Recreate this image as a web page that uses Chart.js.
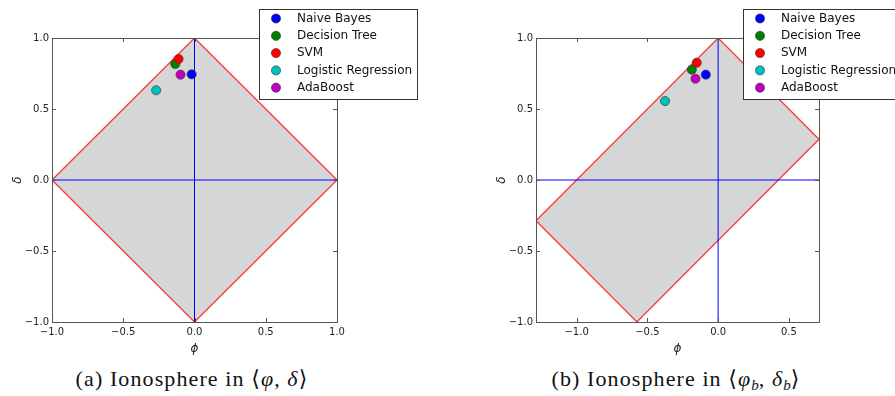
<!DOCTYPE html>
<html>
<head>
<meta charset="utf-8">
<script src="https://cdn.jsdelivr.net/npm/chart.js@4.4.0/dist/chart.umd.min.js"></script>
<style>
body { margin: 0; background: #fff; width: 895px; height: 396px; overflow: hidden; position: relative; }
canvas { position: absolute; top: 0; }
#chartA { left: 0; }
#chartB { left: 447px; }
.caption {
    position: absolute; top: 367px; line-height: 24px;
    font-family: "Liberation Serif", "DejaVu Serif", serif; font-size: 22px; color: #111;
    letter-spacing: 1.1px; white-space: nowrap; transform: translateX(-50%);
}
.caption sub { font-size: 15px; vertical-align: -4px; line-height: 0; letter-spacing: 0; }
</style>
</head>
<body>
<canvas id="chartA" width="447" height="360"></canvas>
<canvas id="chartB" width="448" height="360"></canvas>
<div class="caption" style="left:192px">(a) Ionosphere in ⟨<i>φ</i>, <i>δ</i>⟩</div>
<div class="caption" style="left:676px">(b) Ionosphere in ⟨<i>φ<sub>b</sub></i>, <i>δ<sub>b</sub></i>⟩</div>
<script>
// classifiers and their (phi, delta) positions
const CLASSIFIERS = ["Naive Bayes", "Decision Tree", "SVM", "Logistic Regression", "AdaBoost"];
const PHI_A = [-0.02, -0.135, -0.112, -0.269, -0.098];
const DELTA_A = [0.744, 0.817, 0.852, 0.632, 0.742];
const PHI_B = [-0.087, -0.186, -0.151, -0.375, -0.16];
const DELTA_B = [0.742, 0.777, 0.826, 0.556, 0.713];

// corners of the grey region
const REGION_A_PHI = [0, 1, 0, -1, 0];
const REGION_A_DELTA = [1, 0, -1, 0, 1];
const REGION_B_PHI = [0, 0.713, -0.574, -1.287, 0];
const REGION_B_DELTA = [1, 0.287, -1, -0.287, 1];

const PHI_RANGE_A = [-1, 1];
const PHI_RANGE_B = [-1.287, 0.713];
const DELTA_RANGE = [-1, 1];
const PHI_TICKS_A = [-1, -0.5, 0, 0.5, 1];
const PHI_TICKS_B = [-1, -0.5, 0, 0.5];
const DELTA_TICKS = [-1, -0.5, 0, 0.5, 1];

const MARKER_COLORS = ["#0000ff", "#008000", "#ff0000", "#00bfbf", "#bf00bf"];
const FRAME_COLOR = "#555555";
const TICK_FONT = { family: "DejaVu Sans", size: 10 };

function fmt(v) {
    const s = Math.abs(v).toFixed(1);
    return v < 0 ? "\u2212" + s : s;
}

const framePlugin = {
    id: "frame",
    afterDatasetsDraw(chart) {
        const { ctx, chartArea: a, scales } = chart;
        ctx.save();
        ctx.strokeStyle = FRAME_COLOR;
        ctx.lineWidth = 1;
        ctx.beginPath();
        scales.x.ticks.forEach((t) => {
            const px = Math.round(scales.x.getPixelForValue(t.value)) + 0.5;
            ctx.moveTo(px, a.bottom);
            ctx.lineTo(px, a.bottom - 4);
            ctx.moveTo(px, a.top);
            ctx.lineTo(px, a.top + 4);
        });
        scales.y.ticks.forEach((t) => {
            const py = Math.round(scales.y.getPixelForValue(t.value)) + 0.5;
            ctx.moveTo(a.left, py);
            ctx.lineTo(a.left + 4, py);
            ctx.moveTo(a.right, py);
            ctx.lineTo(a.right - 4, py);
        });
        ctx.stroke();
        ctx.strokeRect(Math.round(a.left) + 0.5, Math.round(a.top) + 0.5,
            Math.round(a.width), Math.round(a.height));
        ctx.restore();
    },
    afterDraw(chart, args, options) {
        const ctx = chart.ctx;
        const x0 = options.legendX;
        const y0 = 9;
        ctx.save();
        ctx.fillStyle = "#fff";
        ctx.fillRect(x0, y0, 158, 90);
        ctx.strokeStyle = "#333";
        ctx.lineWidth = 1;
        ctx.strokeRect(x0 + 0.5, y0 + 0.5, 158, 90);
        ctx.font = "12px 'DejaVu Sans'";
        ctx.textBaseline = "middle";
        chart.data.datasets.filter((d) => d.isClassifier).forEach((d, i) => {
            const cy = y0 + 9.5 + i * 17.3;
            ctx.beginPath();
            ctx.arc(x0 + 17, cy, 4.6, 0, Math.PI * 2);
            ctx.fillStyle = d.backgroundColor;
            ctx.fill();
            ctx.lineWidth = 0.6;
            ctx.strokeStyle = "#333";
            ctx.stroke();
            ctx.fillStyle = "#111";
            ctx.fillText(d.label, x0 + 38, cy);
        });
        ctx.restore();
    },
};

function makeChart(id, phi, delta, regionPhi, regionDelta, phiRange, phiTicks, padding, legendX) {
    const datasets = [];
    CLASSIFIERS.forEach((name, i) => {
        datasets.push({
            label: name,
            isClassifier: true,
            data: [{ x: phi[i], y: delta[i] }],
            backgroundColor: MARKER_COLORS[i],
            borderColor: "#333",
            borderWidth: 0.6,
            pointRadius: 4.6,
            order: CLASSIFIERS.length - i,
        });
    });
    datasets.push({
        type: "line",
        data: [{ x: 0, y: DELTA_RANGE[0] }, { x: 0, y: DELTA_RANGE[1] }],
        borderColor: "#0000ff",
        borderWidth: 1,
        pointRadius: 0,
        fill: false,
        order: 10,
    });
    datasets.push({
        type: "line",
        data: [{ x: phiRange[0], y: 0 }, { x: phiRange[1], y: 0 }],
        borderColor: "#0000ff",
        borderWidth: 1,
        pointRadius: 0,
        fill: false,
        order: 11,
    });
    datasets.push({
        type: "line",
        data: regionPhi.map((x, i) => ({ x: x, y: regionDelta[i] })),
        borderColor: "rgba(255, 0, 0, 0.75)",
        borderWidth: 1.3,
        backgroundColor: "#d6d6d6",
        fill: "shape",
        pointRadius: 0,
        tension: 0,
        order: 20,
    });

    return new Chart(document.getElementById(id), {
        type: "scatter",
        data: { datasets: datasets },
        options: {
            responsive: false,
            devicePixelRatio: 1,
            animation: false,
            layout: { padding: padding },
            plugins: {
                legend: { display: false },
                tooltip: { enabled: false },
                frame: { legendX: legendX },
            },
            scales: {
                x: {
                    type: "linear",
                    min: phiRange[0],
                    max: phiRange[1],
                    afterBuildTicks: (s) => { s.ticks = phiTicks.map((v) => ({ value: v })); },
                    afterFit: (s) => { s.height = 38; },
                    grid: { display: false, drawTicks: false },
                    border: { display: false },
                    ticks: { font: TICK_FONT, color: "#222", padding: 4, maxRotation: 0, callback: (v) => fmt(v) },
                    title: {
                        display: true, text: "ϕ", color: "#222",
                        font: { family: "DejaVu Sans", size: 12, style: "italic" },
                        padding: { top: 4, bottom: 4 },
                    },
                },
                y: {
                    type: "linear",
                    min: DELTA_RANGE[0],
                    max: DELTA_RANGE[1],
                    afterBuildTicks: (s) => { s.ticks = DELTA_TICKS.map((v) => ({ value: v })); },
                    afterFit: (s) => { s.width = 52; },
                    grid: { display: false, drawTicks: false },
                    border: { display: false },
                    ticks: { font: TICK_FONT, color: "#222", padding: 3, callback: (v) => fmt(v) },
                    title: {
                        display: true, text: "δ", color: "#222",
                        font: { family: "DejaVu Sans", size: 12, style: "italic" },
                        padding: { top: 11, bottom: 4 },
                    },
                },
            },
        },
        plugins: [framePlugin],
    });
}

makeChart("chartA", PHI_A, DELTA_A, REGION_A_PHI, REGION_A_DELTA, PHI_RANGE_A, PHI_TICKS_A,
    { left: 0, top: 38, right: 110, bottom: 0 }, 259);
makeChart("chartB", PHI_B, DELTA_B, REGION_B_PHI, REGION_B_DELTA, PHI_RANGE_B, PHI_TICKS_B,
    { left: 37, top: 38, right: 76, bottom: 0 }, 296);
</script>
</body>
</html>
